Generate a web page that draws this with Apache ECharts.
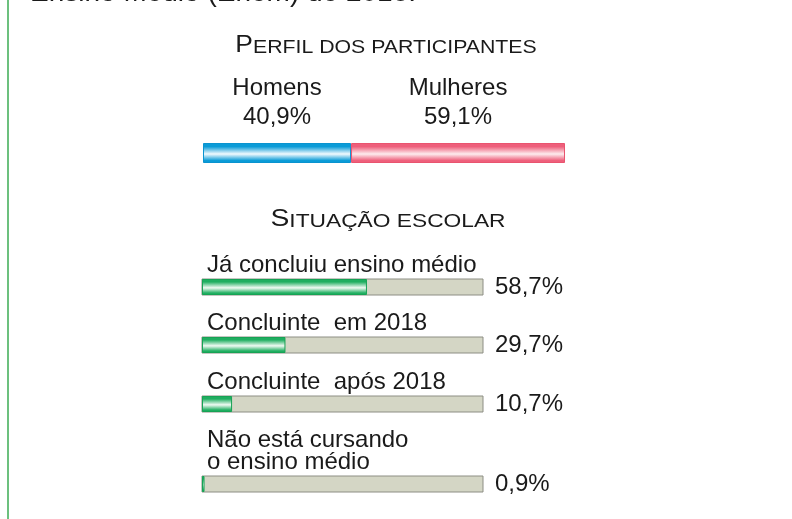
<!DOCTYPE html>
<html>
<head>
<meta charset="utf-8">
<script src="https://cdn.jsdelivr.net/npm/echarts@6/dist/echarts.min.js"></script>
<style>
  html, body { margin: 0; padding: 0; background: #fff; }
  #main { width: 792px; height: 519px; }
</style>
</head>
<body>
<div id="main"></div>
<script>
// perfil dos participantes
const genderNames = ['Homens', 'Mulheres'];
const genderValues = [40.9, 59.1];

// situação escolar
const schoolNames = ['Já concluiu ensino médio', 'Concluinte  em 2018', 'Concluinte  após 2018', 'Não está cursando\no ensino médio'];
const schoolValues = [58.7, 29.7, 10.7, 0.9];

const FONT = '"Liberation Sans", Arial, Helvetica, sans-serif';

function pct(v) {
  return String(v).replace('.', ',') + '%';
}

function shine(edge, mid) {
  return new echarts.graphic.LinearGradient(0, 0, 0, 1, [
    { offset: 0, color: edge },
    { offset: 0.18, color: edge },
    { offset: 0.55, color: mid },
    { offset: 0.88, color: edge },
    { offset: 1, color: edge }
  ]);
}

const chart = echarts.init(document.getElementById('main'), null, { renderer: 'canvas' });

const grids = [{ left: 203, top: 143, width: 362, height: 20 }];
const xAxes = [{ gridIndex: 0, type: 'value', min: 0, max: 100, show: false }];
const yAxes = [{ gridIndex: 0, type: 'category', data: ['perfil'], show: false }];
const series = [];

const genderEdge = ['#0a9bd7', '#ee5f7b'];
const genderMid = ['#f2fafe', '#fdecee'];
const genderBorder = ['#0a93cf', '#e9546f'];
genderNames.forEach((n, i) => {
  series.push({
    type: 'bar',
    name: n,
    stack: 'g',
    xAxisIndex: 0,
    yAxisIndex: 0,
    barWidth: 20,
    data: [genderValues[i]],
    itemStyle: { color: shine(genderEdge[i], genderMid[i]), borderColor: genderBorder[i], borderWidth: 1 },
    label: {
      show: true,
      position: 'top',
      distance: 11,
      align: 'center',
      fontFamily: FONT,
      fontSize: 24,
      lineHeight: 29,
      color: '#1a1a1a',
      formatter: p => p.seriesName + '\n' + pct(p.value)
    }
  });
});

const barTops = [279, 337, 396, 476];
schoolNames.forEach((n, i) => {
  const g = i + 1;
  grids.push({ left: 202, top: barTops[i], width: 281, height: 16 });
  xAxes.push({ gridIndex: g, type: 'value', min: 0, max: 100, show: false });
  yAxes.push({ gridIndex: g, type: 'category', data: [n], show: false });
  yAxes.push({
    gridIndex: g, type: 'category', data: [n], position: 'right',
    axisLine: { show: false }, axisTick: { show: false },
    axisLabel: {
      margin: 12, align: 'left', fontFamily: FONT, fontSize: 24, color: '#1a1a1a',
      formatter: () => pct(schoolValues[i])
    }
  });
  series.push({
    type: 'bar',
    xAxisIndex: g,
    yAxisIndex: yAxes.length - 2,
    barWidth: 16,
    data: [schoolValues[i]],
    showBackground: true,
    backgroundStyle: { color: '#d4d6c5', borderColor: '#8d8e84', borderWidth: 1 },
    itemStyle: { color: shine('#1fae60', '#f0faf3'), borderColor: '#17a255', borderWidth: 1 },
    label: {
      show: true,
      position: [5, -3],
      align: 'left',
      verticalAlign: 'bottom',
      fontFamily: FONT,
      fontSize: 24,
      lineHeight: 22,
      color: '#1a1a1a',
      formatter: '{b}'
    }
  });
});

chart.setOption({
  animation: false,
  backgroundColor: '#ffffff',
  grid: grids,
  xAxis: xAxes,
  yAxis: yAxes,
  series: series,
  graphic: [
    {
      type: 'line',
      shape: { x1: 8, y1: 0, x2: 8, y2: 519 },
      style: { stroke: '#6cc07e', lineWidth: 2 }
    },
    {
      type: 'text',
      x: 30, y: -21,
      style: { text: 'Ensino Médio (Enem) de 2018.', font: '28px ' + FONT, fill: '#1a1a1a', verticalAlign: 'top', align: 'left' }
    },
    {
      type: 'text',
      x: 386, y: 57,
      scaleX: 1.15,
      style: {
        text: '{a|P}{b|ERFIL DOS PARTICIPANTES}',
        align: 'center', verticalAlign: 'bottom',
        rich: {
          a: { fontFamily: FONT, fontSize: 23, fill: '#1a1a1a', verticalAlign: 'bottom' },
          b: { fontFamily: FONT, fontSize: 18.5, fill: '#1a1a1a', verticalAlign: 'bottom' }
        }
      }
    },
    {
      type: 'text',
      x: 388, y: 231,
      scaleX: 1.23,
      style: {
        text: '{a|S}{b|ITUAÇÃO ESCOLAR}',
        align: 'center', verticalAlign: 'bottom',
        rich: {
          a: { fontFamily: FONT, fontSize: 23, fill: '#1a1a1a', verticalAlign: 'bottom' },
          b: { fontFamily: FONT, fontSize: 18.5, fill: '#1a1a1a', verticalAlign: 'bottom' }
        }
      }
    }
  ]
});
</script>
</body>
</html>
